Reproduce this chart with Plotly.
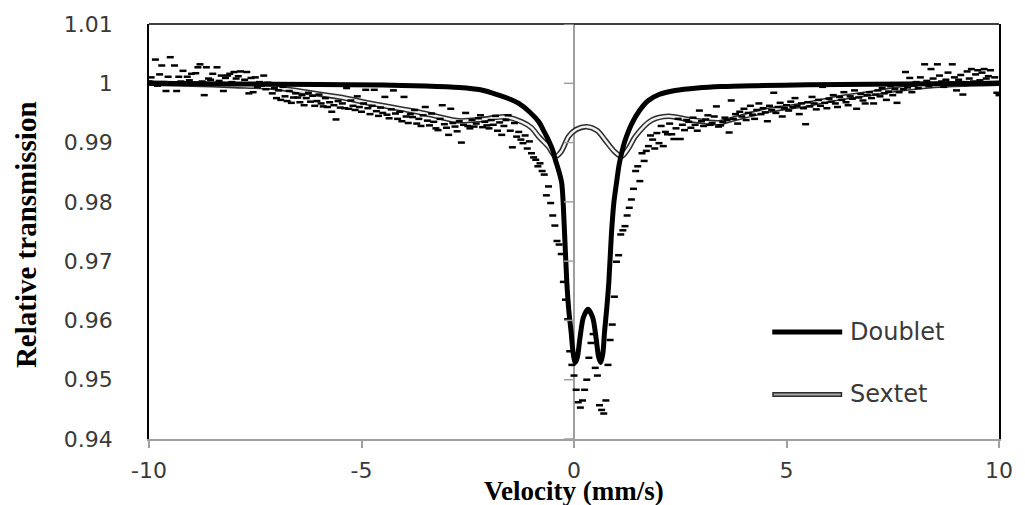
import plotly.graph_objects as go

# ---------------- observed spectrum (velocity mm/s, relative transmission) ----------------
velocity_left = [
    -10.00, -9.95, -9.90, -9.85, -9.80, -9.75, -9.70, -9.65, -9.60, -9.55,
    -9.50, -9.45, -9.40, -9.35, -9.30, -9.25, -9.20, -9.15, -9.10, -9.05,
    -9.00, -8.95, -8.90, -8.85, -8.80, -8.75, -8.70, -8.65, -8.60, -8.55,
    -8.50, -8.45, -8.40, -8.35, -8.30, -8.25, -8.20, -8.15, -8.10, -8.05,
    -8.00, -7.95, -7.90, -7.85, -7.80, -7.75, -7.70, -7.65, -7.60, -7.55,
    -7.50, -7.45, -7.40, -7.35, -7.30, -7.25, -7.20, -7.15, -7.10, -7.05,
    -7.00, -6.95, -6.90, -6.85, -6.80, -6.75, -6.70, -6.65, -6.60, -6.55,
    -6.50, -6.45, -6.40, -6.35, -6.30, -6.25, -6.20, -6.15, -6.10, -6.05,
    -6.00, -5.95, -5.90, -5.85, -5.80, -5.75, -5.70, -5.65, -5.60, -5.55,
    -5.50, -5.45, -5.40, -5.35, -5.30, -5.25, -5.20, -5.15, -5.10, -5.05,
    -5.00, -4.95, -4.90, -4.85, -4.80, -4.75, -4.70, -4.65, -4.60, -4.55,
    -4.50, -4.45, -4.40, -4.35, -4.30, -4.25, -4.20, -4.15, -4.10, -4.05,
    -4.00, -3.95, -3.90, -3.85, -3.80, -3.75, -3.70, -3.65, -3.60, -3.55,
    -3.50, -3.45, -3.40, -3.35, -3.30, -3.25, -3.20, -3.15, -3.10, -3.05,
    -3.00, -2.95, -2.90, -2.85, -2.80, -2.75, -2.70, -2.65, -2.60, -2.55,
    -2.50, -2.45, -2.40, -2.35, -2.30, -2.25, -2.20, -2.15, -2.10, -2.05,
    -2.00, -1.95, -1.90, -1.85, -1.80, -1.75, -1.70, -1.65, -1.60, -1.55,
    -1.50, -1.45, -1.40, -1.35, -1.30, -1.25, -1.20, -1.15, -1.10, -1.05,
    -1.00, -0.95, -0.90, -0.85, -0.80, -0.75,
]
transmission_left = [
    1.0003, 1.0010, 1.0001, 1.0040, 0.9996, 1.0015, 1.0030, 1.0002, 0.9987, 1.0011,
    1.0044, 1.0000, 1.0030, 0.9987, 1.0011, 1.0003, 1.0021, 0.9998, 1.0011, 1.0005,
    1.0016, 1.0001, 1.0017, 1.0027, 1.0032, 1.0003, 0.9980, 1.0027, 1.0008, 1.0006,
    1.0016, 0.9999, 1.0027, 1.0004, 1.0013, 0.9987, 1.0009, 1.0013, 1.0016, 1.0002,
    1.0019, 1.0008, 1.0012, 1.0020, 0.9998, 1.0006, 1.0019, 0.9983, 1.0009, 0.9985,
    1.0010, 0.9994, 1.0002, 0.9996, 1.0013, 0.9990, 1.0001, 0.9997, 0.9983, 0.9992,
    0.9975, 0.9988, 0.9972, 0.9994, 0.9978, 0.9970, 0.9987, 0.9967, 0.9976, 0.9983,
    0.9976, 0.9968, 0.9980, 0.9963, 0.9975, 0.9984, 0.9969, 0.9979, 0.9962, 0.9970,
    0.9981, 0.9966, 0.9961, 0.9975, 0.9960, 0.9968, 0.9952, 0.9963, 0.9939, 0.9970,
    0.9959, 0.9966, 0.9958, 0.9992, 0.9957, 0.9971, 0.9962, 0.9955, 0.9978, 0.9960,
    0.9952, 0.9966, 0.9989, 0.9958, 0.9948, 0.9962, 0.9989, 0.9953, 0.9945, 0.9959,
    0.9950, 0.9977, 0.9947, 0.9941, 0.9956, 0.9988, 0.9949, 0.9940, 0.9952, 0.9936,
    0.9977, 0.9944, 0.9933, 0.9948, 0.9943, 0.9955, 0.9932, 0.9940, 0.9928, 0.9946,
    0.9960, 0.9937, 0.9929, 0.9949, 0.9935, 0.9924, 0.9921, 0.9940, 0.9963, 0.9931,
    0.9925, 0.9913, 0.9957, 0.9933, 0.9927, 0.9919, 0.9936, 0.9900, 0.9930, 0.9950,
    0.9928, 0.9924, 0.9938, 0.9927, 0.9932, 0.9941, 0.9946, 0.9926, 0.9935, 0.9929,
    0.9924, 0.9938, 0.9930, 0.9945, 0.9920, 0.9934, 0.9913, 0.9928, 0.9938, 0.9946,
    0.9920, 0.9892, 0.9933, 0.9910, 0.9918, 0.9905, 0.9899, 0.9912, 0.9890, 0.9902,
    0.9882, 0.9875, 0.9871, 0.9860, 0.9865, 0.9852,
]
velocity_centre = [
    -0.70, -0.65, -0.60, -0.55, -0.50, -0.45, -0.40, -0.35, -0.30, -0.25,
    -0.20, -0.15, -0.10, -0.05, 0.00, 0.05, 0.10, 0.15, 0.20, 0.25,
    0.30, 0.35, 0.40, 0.45, 0.50, 0.55, 0.60, 0.65, 0.70, 0.75,
    0.80, 0.85, 0.90, 0.95, 1.00, 1.05, 1.10, 1.15, 1.20, 1.25,
    1.30, 1.35, 1.40,
]
transmission_centre = [
    0.9846, 0.9811, 0.9826, 0.9798, 0.9777, 0.9760, 0.9734, 0.9728, 0.9712, 0.9665,
    0.9635, 0.9602, 0.9548, 0.9525, 0.9507, 0.9483, 0.9462, 0.9453, 0.9465, 0.9483,
    0.9500, 0.9537, 0.9562, 0.9577, 0.9520, 0.9507, 0.9457, 0.9449, 0.9443, 0.9465,
    0.9525, 0.9567, 0.9593, 0.9640, 0.9699, 0.9710, 0.9745, 0.9752, 0.9759, 0.9777,
    0.9790, 0.9804, 0.9822,
]
velocity_right = [
    1.45, 1.50, 1.55, 1.60, 1.65, 1.70, 1.75, 1.80, 1.85, 1.90,
    1.95, 2.00, 2.05, 2.10, 2.15, 2.20, 2.25, 2.30, 2.35, 2.40,
    2.45, 2.50, 2.55, 2.60, 2.65, 2.70, 2.75, 2.80, 2.85, 2.90,
    2.95, 3.00, 3.05, 3.10, 3.15, 3.20, 3.25, 3.30, 3.35, 3.40,
    3.45, 3.50, 3.55, 3.60, 3.65, 3.70, 3.75, 3.80, 3.85, 3.90,
    3.95, 4.00, 4.05, 4.10, 4.15, 4.20, 4.25, 4.30, 4.35, 4.40,
    4.45, 4.50, 4.55, 4.60, 4.65, 4.70, 4.75, 4.80, 4.85, 4.90,
    4.95, 5.00, 5.05, 5.10, 5.15, 5.20, 5.25, 5.30, 5.35, 5.40,
    5.45, 5.50, 5.55, 5.60, 5.65, 5.70, 5.75, 5.80, 5.85, 5.90,
    5.95, 6.00, 6.05, 6.10, 6.15, 6.20, 6.25, 6.30, 6.35, 6.40,
    6.45, 6.50, 6.55, 6.60, 6.65, 6.70, 6.75, 6.80, 6.85, 6.90,
    6.95, 7.00, 7.05, 7.10, 7.15, 7.20, 7.25, 7.30, 7.35, 7.40,
    7.45, 7.50, 7.55, 7.60, 7.65, 7.70, 7.75, 7.80, 7.85, 7.90,
    7.95, 8.00, 8.05, 8.10, 8.15, 8.20, 8.25, 8.30, 8.35, 8.40,
    8.45, 8.50, 8.55, 8.60, 8.65, 8.70, 8.75, 8.80, 8.85, 8.90,
    8.95, 9.00, 9.05, 9.10, 9.15, 9.20, 9.25, 9.30, 9.35, 9.40,
    9.45, 9.50, 9.55, 9.60, 9.65, 9.70, 9.75, 9.80, 9.85, 9.90,
    9.95, 10.00,
]
transmission_right = [
    0.9852, 0.9860, 0.9835, 0.9882, 0.9869, 0.9886, 0.9894, 0.9912, 0.9905, 0.9890,
    0.9916, 0.9899, 0.9928, 0.9894, 0.9918, 0.9914, 0.9932, 0.9914, 0.9906, 0.9924,
    0.9940, 0.9906, 0.9930, 0.9921, 0.9938, 0.9935, 0.9925, 0.9942, 0.9930, 0.9920,
    0.9954, 0.9936, 0.9928, 0.9939, 0.9946, 0.9930, 0.9933, 0.9944, 0.9961, 0.9927,
    0.9929, 0.9935, 0.9942, 0.9938, 0.9917, 0.9971, 0.9940, 0.9948, 0.9932, 0.9952,
    0.9944, 0.9957, 0.9938, 0.9950, 0.9962, 0.9947, 0.9940, 0.9955, 0.9966, 0.9948,
    0.9958, 0.9951, 0.9936, 0.9962, 0.9955, 0.9984, 0.9950, 0.9960, 0.9967, 0.9944,
    0.9958, 0.9963, 0.9954, 0.9969, 0.9960, 0.9975, 0.9962, 0.9948, 0.9966, 0.9958,
    0.9931, 0.9968, 0.9961, 0.9977, 0.9966, 0.9956, 0.9972, 0.9962, 0.9994, 0.9967,
    0.9958, 0.9974, 0.9969, 0.9980, 0.9966, 0.9960, 0.9977, 0.9972, 0.9985, 0.9968,
    0.9963, 0.9978, 0.9974, 0.9988, 0.9957, 0.9976, 0.9982, 0.9971, 0.9966, 0.9980,
    0.9985, 0.9975, 0.9966, 0.9981, 0.9988, 0.9978, 0.9992, 0.9983, 0.9972, 0.9986,
    0.9995, 0.9980, 0.9990, 0.9967, 0.9985, 0.9998, 0.9990, 1.0019, 0.9993, 1.0009,
    0.9985, 0.9996, 1.0002, 0.9992, 1.0010, 0.9998, 1.0032, 1.0004, 0.9995, 1.0024,
    1.0008, 1.0000, 1.0032, 1.0013, 1.0003, 0.9994, 1.0006, 1.0018, 1.0001, 1.0032,
    1.0010, 0.9988, 1.0006, 1.0014, 0.9981, 1.0002, 1.0020, 1.0008, 1.0024, 1.0003,
    1.0015, 1.0022, 1.0005, 1.0018, 1.0024, 1.0008, 1.0012, 1.0022, 1.0001, 1.0010,
    0.9984, 0.9980,
]

# ---------------- fitted components ----------------
doublet_velocity = [
    -10, -8, -6, -4.5, -3.5, -2.7, -2.2, -1.77, -1.5, -1.3, -1.05, -0.83, -0.7, -0.6,
    -0.5, -0.44, -0.37, -0.29, -0.23, -0.17, -0.12, -0.07, -0.02, 0.03, 0.08, 0.14,
    0.22, 0.33, 0.44, 0.52, 0.58, 0.63, 0.68, 0.72, 0.77, 0.82, 0.88, 0.94, 1.0, 1.06,
    1.12, 1.2, 1.36, 1.55, 1.75, 2.0, 2.38, 2.9, 3.47, 4.3, 5.5, 7.0, 8.5, 10,
]
doublet_transmission = [
    1.0, 0.9999, 0.9998, 0.9997, 0.99955, 0.9993, 0.9989, 0.9980, 0.9973, 0.9966,
    0.9952, 0.9935, 0.9918, 0.9904, 0.9887, 0.9871, 0.9855, 0.9832, 0.9760, 0.9665,
    0.9615, 0.9582, 0.9545, 0.9529, 0.9538, 0.9570, 0.9605, 0.9619, 0.9605, 0.9570,
    0.9538, 0.9529, 0.9545, 0.9582, 0.9620, 0.9665, 0.9745, 0.9800, 0.9832, 0.9862,
    0.9882, 0.9903, 0.9932, 0.9955, 0.9971, 0.9981, 0.99878, 0.9992, 0.99945, 0.9996,
    0.99974, 0.99985, 0.99993, 1.0,
]
sextet_velocity = [
    -10, -9, -8, -7.1, -6.32, -5.53, -4.75, -3.97, -3.5, -3.18, -2.71, -2.17, -1.62,
    -1.23, -1.0, -0.83, -0.6, -0.44, -0.3, -0.13, 0.05, 0.3, 0.55, 0.73, 0.95, 1.12,
    1.28, 1.44, 1.83, 2.22, 2.69, 3.4, 3.79, 4.57, 5.35, 6.14, 6.92, 7.7, 8.48, 9.2, 10,
]
sextet_transmission = [
    1.0, 0.99985, 0.9996, 0.99935, 0.99852, 0.99768, 0.99657, 0.99556, 0.9949, 0.99434,
    0.99367, 0.9939, 0.99434, 0.9935, 0.9925, 0.9910, 0.9893, 0.98767, 0.9885, 0.9910,
    0.9922, 0.99268, 0.9920, 0.99044, 0.9885, 0.98767, 0.9890, 0.9910, 0.99378, 0.99445,
    0.9939, 0.99334, 0.99406, 0.99545, 0.99628, 0.9974, 0.99823, 0.99907, 0.99962,
    0.99985, 1.0,
]

series_names = ["Doublet", "Sextet"]
x_tick_values = [-10, -5, 0, 5, 10]
x_tick_text = ["-10", "-5", "0", "5", "10"]
y_tick_values = [0.94, 0.95, 0.96, 0.97, 0.98, 0.99, 1.00, 1.01]
y_tick_text = ["0.94", "0.95", "0.96", "0.97", "0.98", "0.99", "1", "1.01"]
x_title = "Velocity (mm/s)"
y_title = "Relative transmission"

velocity = velocity_left + velocity_centre + velocity_right
transmission = transmission_left + transmission_centre + transmission_right
assert len(velocity) == len(transmission)
assert len(doublet_velocity) == len(doublet_transmission)
assert len(sextet_velocity) == len(sextet_transmission)

AXIS_GREY = "#a0a0a0"
TEXT_GREY = "#3a3a3a"
SEXTET_EDGE = "#2e2e2e"
SEXTET_CORE = "#f2f2f2"

fig = go.Figure()
fig.add_trace(go.Scatter(
    x=sextet_velocity, y=sextet_transmission, mode="lines",
    line=dict(color=SEXTET_EDGE, width=5.5, shape="spline", smoothing=0.8),
    showlegend=False, hoverinfo="skip"))
fig.add_trace(go.Scatter(
    x=sextet_velocity, y=sextet_transmission, mode="lines", name=series_names[1],
    line=dict(color=SEXTET_CORE, width=2.4, shape="spline", smoothing=0.8),
    showlegend=False))
fig.add_trace(go.Scatter(
    x=doublet_velocity, y=doublet_transmission, mode="lines", name=series_names[0],
    line=dict(color="black", width=5, shape="spline", smoothing=0.8),
    showlegend=False))
fig.add_trace(go.Scatter(
    x=velocity, y=transmission, mode="markers", name="data",
    marker=dict(symbol="line-ew", size=5, color="black",
                line=dict(width=2.5, color="black")),
    showlegend=False))

# plot-area geometry (pixels) used for manual legend / titles
L, R, T, B = 149, 1000, 20, 439
def px_x(p):
    return (p - L) / (R - L)
def px_y(p):
    return (B - p) / (B - T)

shapes = []
# top border
shapes.append(dict(type="line", xref="paper", yref="paper", x0=0, x1=1, y0=1, y1=1,
                   line=dict(color="black", width=1.5)))
# tick marks on the vertical axis crossing at velocity 0
for tv in y_tick_values:
    shapes.append(dict(type="line", xref="x", yref="y", x0=-0.235, x1=0, y0=tv, y1=tv,
                       line=dict(color=AXIS_GREY, width=1.5)))
# legend samples
shapes.append(dict(type="line", xref="paper", yref="paper",
                   x0=px_x(773), x1=px_x(843), y0=px_y(331), y1=px_y(331),
                   line=dict(color="black", width=5)))
shapes.append(dict(type="line", xref="paper", yref="paper",
                   x0=px_x(773), x1=px_x(843), y0=px_y(394), y1=px_y(394),
                   line=dict(color=SEXTET_EDGE, width=5)))
shapes.append(dict(type="line", xref="paper", yref="paper",
                   x0=px_x(774.5), x1=px_x(841.5), y0=px_y(394), y1=px_y(394),
                   line=dict(color="#a8a8a8", width=2)))

annotations = [
    dict(text=series_names[0], xref="paper", yref="paper", x=px_x(849), y=px_y(331),
         xanchor="left", yanchor="middle", showarrow=False,
         font=dict(family="DejaVu Sans", size=24, color=TEXT_GREY)),
    dict(text=series_names[1], xref="paper", yref="paper", x=px_x(849), y=px_y(394),
         xanchor="left", yanchor="middle", showarrow=False,
         font=dict(family="DejaVu Sans", size=24, color=TEXT_GREY)),
    dict(text="<b>%s</b>" % x_title, xref="paper", yref="paper", x=px_x(575), y=px_y(491),
         xanchor="center", yanchor="middle", showarrow=False,
         font=dict(family="Liberation Serif", size=27, color="black")),
    dict(text="<b>%s</b>" % y_title, xref="paper", yref="paper", x=px_x(26), y=px_y(233),
         xanchor="center", yanchor="middle", showarrow=False, textangle=-90,
         font=dict(family="Liberation Serif", size=29, color="black")),
]

fig.update_layout(
    width=1025, height=505, autosize=False,
    margin=dict(l=L, r=1025 - R, t=T, b=505 - B, pad=0),
    paper_bgcolor="white", plot_bgcolor="white",
    showlegend=False,
    shapes=shapes, annotations=annotations,
    xaxis=dict(range=[-10, 10], tickvals=x_tick_values, ticktext=x_tick_text,
               showgrid=False, zeroline=True, zerolinecolor=AXIS_GREY, zerolinewidth=1.5,
               showline=True, linecolor=AXIS_GREY, linewidth=1.5, mirror=False,
               ticks="outside", ticklen=7, tickwidth=1.5, tickcolor=AXIS_GREY,
               ticklabelstandoff=4,
               tickfont=dict(family="DejaVu Sans", size=22, color=TEXT_GREY)),
    yaxis=dict(range=[0.94, 1.01], tickvals=y_tick_values, ticktext=y_tick_text,
               showgrid=False, zeroline=False,
               showline=True, linecolor="black", linewidth=1.5, mirror=True,
               ticks="", ticklabelstandoff=30,
               tickfont=dict(family="DejaVu Sans", size=22, color=TEXT_GREY)),
)

fig.write_html("out.html", config={"displayModeBar": False})
